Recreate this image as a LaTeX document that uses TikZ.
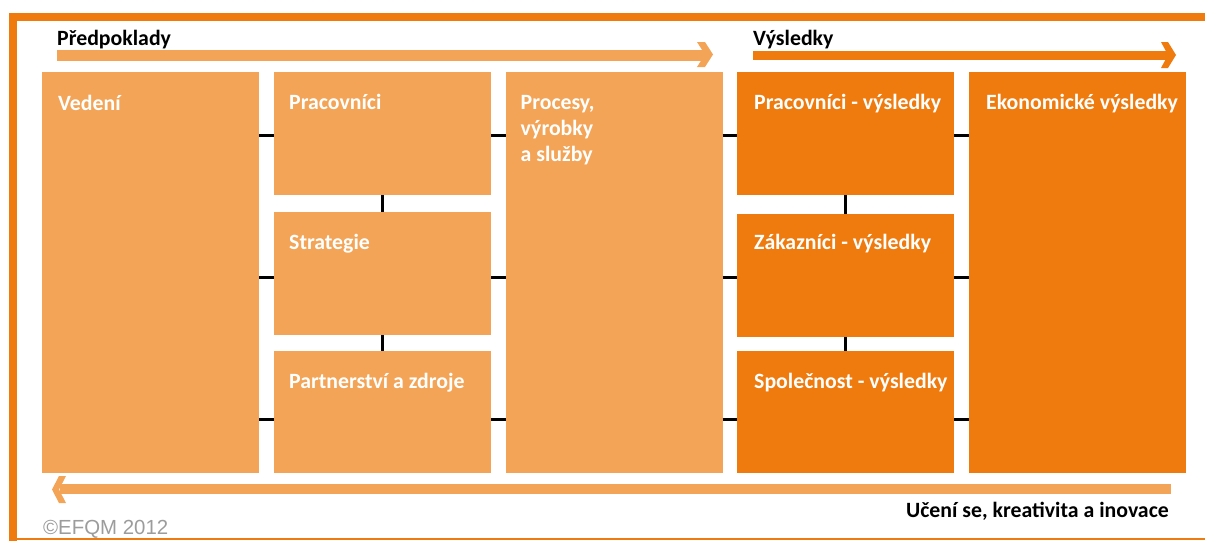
\documentclass[tikz,border=0pt]{standalone}
\usepackage{fontspec}
\setmainfont{Carlito}
\newfontfamily\efqmfont{Liberation Sans}
\definecolor{efqmlight}{HTML}{F3A456}
\definecolor{efqmdark}{HTML}{EF7B0E}
\definecolor{efqmgray}{HTML}{9C9C9C}
\begin{document}
\begin{tikzpicture}[x=1pt,y=-1pt,
  box/.style={rectangle, inner sep=0pt, outer sep=0pt, minimum width=217pt},
  pre/.style={box, fill=efqmlight},
  res/.style={box, fill=efqmdark},
  boxtext/.style={anchor=base west, inner sep=0pt, text=white, align=left, font=\bfseries\fontsize{21.8}{26}\selectfont},
  head/.style={anchor=base west, inner sep=0pt, font=\bfseries\fontsize{21.8}{26}\selectfont},
  link/.style={draw, line width=3pt, black}]
\useasboundingbox (0,0) rectangle (1205,541);
\draw[efqmdark, line width=8pt] (1205,17) -- (13,17) -- (13,541);
\draw[efqmdark, line width=1.5pt] (13,539.2) -- (1205,539.2);
\node[pre, minimum height=401pt] (vedeni) at (150.5,272.5) {};
\node[pre, minimum height=123pt] (prac) at (382.5,133.5) {};
\node[pre, minimum height=123pt] (strat) at (382.5,273.5) {};
\node[pre, minimum height=122pt] (partner) at (382.5,412) {};
\node[pre, minimum height=401pt] (procesy) at (614,272.5) {};
\node[res, minimum height=123pt] (pracvys) at (845.5,133.5) {};
\node[res, minimum height=123pt] (zakvys) at (845.5,275.5) {};
\node[res, minimum height=122pt] (spolvys) at (845.5,412) {};
\node[res, minimum height=401pt] (ekon) at (1077.5,272.5) {};
\node[boxtext] (tvedeni) at ([shift={(16,38)}]vedeni.north west) {Vedení};
\node[boxtext] (tprac) at ([shift={(15,37)}]prac.north west) {Pracovníci};
\node[boxtext] (tstrat) at ([shift={(15,37)}]strat.north west) {Strategie};
\node[boxtext] (tpartner) at ([shift={(15,37)}]partner.north west) {Partnerství a zdroje};
\node[boxtext] (tprocesy) at ([shift={(15,89)}]procesy.north west) {Procesy,\\výrobky\\a služby};
\node[boxtext] (tpracvys) at ([shift={(17,37)}]pracvys.north west) {Pracovníci - výsledky};
\node[boxtext] (tzakvys) at ([shift={(17,35)}]zakvys.north west) {Zákazníci - výsledky};
\node[boxtext] (tspolvys) at ([shift={(17,37)}]spolvys.north west) {Společnost - výsledky};
\node[boxtext] (tekon) at ([shift={(17,37)}]ekon.north west) {Ekonomické výsledky};
\coordinate (r1) at (0,135);
\coordinate (r2) at (0,277);
\coordinate (r3) at (0,419);
\path[link] (vedeni.east |- r1) -- (prac.west |- r1);
\path[link] (vedeni.east |- r2) -- (strat.west |- r2);
\path[link] (vedeni.east |- r3) -- (partner.west |- r3);
\path[link] (prac.east |- r1) -- (procesy.west |- r1);
\path[link] (strat.east |- r2) -- (procesy.west |- r2);
\path[link] (partner.east |- r3) -- (procesy.west |- r3);
\path[link] (procesy.east |- r1) -- (pracvys.west |- r1);
\path[link] (procesy.east |- r2) -- (zakvys.west |- r2);
\path[link] (procesy.east |- r3) -- (spolvys.west |- r3);
\path[link] (pracvys.east |- r1) -- (ekon.west |- r1);
\path[link] (zakvys.east |- r2) -- (ekon.west |- r2);
\path[link] (spolvys.east |- r3) -- (ekon.west |- r3);
\path[link] (prac.south) -- (strat.north);
\path[link] (strat.south) -- (partner.north);
\path[link] (pracvys.south) -- (zakvys.north);
\path[link] (zakvys.south) -- (spolvys.north);
\fill[efqmlight] (57,50) rectangle (705,61);
\fill[efqmlight] (697,42) -- (705,42) -- (713,54.5) -- (705,67) -- (697,67) -- (705,54.5) -- cycle;
\fill[efqmdark] (753,51) rectangle (1168,60);
\fill[efqmdark] (1161,42) -- (1168,42) -- (1176,55) -- (1168,68) -- (1161,68) -- (1168,55) -- cycle;
\fill[efqmlight] (60,484) rectangle (1171,494);
\fill[efqmlight] (66,476) -- (59,476) -- (52,489.5) -- (59,503) -- (66,503) -- (59,489.5) -- cycle;
\node[head] (tpred) at (57,45) {Předpoklady};
\node[head] (tvys) at (753,45) {Výsledky};
\node[head, anchor=base east] (tuceni) at (1169,517) {Učení se, kreativita a inovace};
\node[anchor=base west, inner sep=0pt, text=efqmgray, font=\efqmfont\fontsize{20.4}{24}\selectfont] (tefqm) at (43,534) {©EFQM 2012};
\end{tikzpicture}
\end{document}
